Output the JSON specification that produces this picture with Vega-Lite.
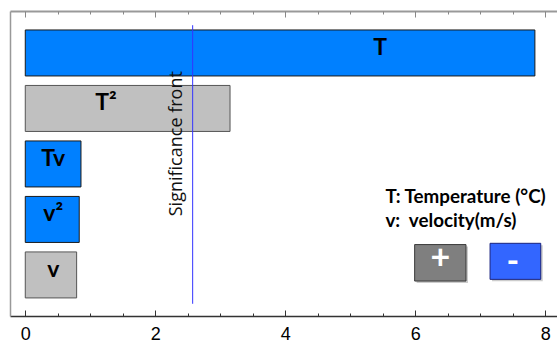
{
  "$schema": "https://vega.github.io/schema/vega-lite/v6.json",
  "width": 547,
  "height": 305,
  "autosize": {"type": "none"},
  "padding": {"left": 10, "top": 11, "right": 0, "bottom": 27},
  "background": "white",
  "config": {"view": {"stroke": null}, "axis": {"title": null, "grid": false}},
  "datasets": {
    "effects": [
      {"term": "T", "pos": 5, "effect": 7.84, "sign": "-", "lx": 5.46},
      {"term": "T²", "pos": 4, "effect": 3.15, "sign": "+", "lx": 1.24},
      {"term": "Tv", "pos": 3, "effect": 0.857, "sign": "-", "lx": 0.43},
      {"term": "v²", "pos": 2, "effect": 0.83, "sign": "-", "lx": 0.43},
      {"term": "v", "pos": 1, "effect": 0.79, "sign": "+", "lx": 0.43}
    ],
    "front": [{"x": 2.575, "ytop": 5.5, "ybot": 0.48, "label": "Significance front", "tx": 2.41, "ty": 3.365}],
    "notes": [
      {"label": "T: Temperature (°C)", "x": 5.54, "y": 2.30},
      {"label": "v:\u00a0 velocity(m/s)", "x": 5.54, "y": 1.86}
    ],
    "buttons": [
      {"sym": "+", "x1": 5.99, "x2": 6.78, "y1": 1.547, "y2": 0.89, "tx": 6.385, "ty": 1.10},
      {"sym": "-", "x1": 7.15, "x2": 7.93, "y1": 1.57, "y2": 0.92, "tx": 7.5, "ty": 1.04}
    ]
  },
  "resolve": {"axis": {"x": "independent", "y": "independent"}, "scale": {"fill": "independent", "stroke": "independent"}},
  "layer": [
    {
      "data": {"name": "effects"},
      "mark": {"type": "bar", "orient": "horizontal", "size": 46, "strokeWidth": 1},
      "encoding": {
        "x": {"field": "effect", "type": "quantitative", "stack": null,
          "scale": {"domain": [-0.235, 8.18], "nice": false, "zero": false},
          "axis": {"orient": "bottom", "values": [0, 2, 4, 6, 8], "tickSize": -6, "tickColor": "#333", "domainColor": "#333", "domainWidth": 1.5, "labelFontSize": 18, "labelFont": "Liberation Sans", "labelColor": "#000", "labelPadding": 15, "labelFlush": false}},
        "y": {"field": "pos", "type": "quantitative",
          "scale": {"domain": [0.35, 5.666], "nice": false, "zero": false},
          "axis": {"orient": "left", "ticks": false, "labels": false, "domainColor": "#999", "domainWidth": 1.5}},
        "fill": {"field": "sign", "type": "nominal", "scale": {"domain": ["+", "-"], "range": ["#c0c0c0", "#0080ff"]}, "legend": null},
        "stroke": {"field": "sign", "type": "nominal", "scale": {"domain": ["+", "-"], "range": ["#555555", "#1a1a1a"]}, "legend": null}
      }
    },
    {
      "data": {"name": "front"},
      "mark": {"type": "rule", "color": "#3333ff", "strokeWidth": 1},
      "encoding": {
        "x": {"field": "x", "type": "quantitative",
          "axis": {"orient": "bottom", "values": [0, 0.5, 1, 1.5, 2, 2.5, 3, 3.5, 4, 4.5, 5, 5.5, 6, 6.5, 7, 7.5, 8], "tickSize": -3, "tickColor": "#333", "labels": false, "domain": false}},
        "y": {"field": "ytop", "type": "quantitative", "axis": null},
        "y2": {"field": "ybot"}
      }
    },
    {
      "data": {"name": "front"},
      "mark": {"type": "text", "angle": 270, "align": "center", "baseline": "alphabetic", "font": "Open Sans", "fontSize": 18, "color": "#111"},
      "encoding": {
        "x": {"field": "tx", "type": "quantitative",
          "axis": {"orient": "top", "values": [0, 2, 4, 6, 8], "tickSize": -6, "tickColor": "#888", "labels": false, "domainColor": "#999", "domainWidth": 2}},
        "y": {"field": "ty", "type": "quantitative", "axis": null},
        "text": {"field": "label"}
      }
    },
    {
      "data": {"name": "effects"},
      "mark": {"type": "text", "align": "center", "baseline": "alphabetic", "dy": 2, "font": "Lato", "fontWeight": "bold", "fontSize": 23, "color": "#000"},
      "encoding": {
        "x": {"field": "lx", "type": "quantitative",
          "axis": {"orient": "top", "values": [0, 0.5, 1, 1.5, 2, 2.5, 3, 3.5, 4, 4.5, 5, 5.5, 6, 6.5, 7, 7.5, 8], "tickSize": -3, "tickColor": "#888", "labels": false, "domain": false}},
        "y": {"field": "pos", "type": "quantitative", "axis": null},
        "text": {"field": "term"}
      }
    },
    {
      "data": {"name": "notes"},
      "mark": {"type": "text", "align": "left", "baseline": "alphabetic", "font": "Lato", "fontWeight": "bold", "fontSize": 18.8, "color": "#000"},
      "encoding": {
        "x": {"field": "x", "type": "quantitative", "axis": null},
        "y": {"field": "y", "type": "quantitative", "axis": null},
        "text": {"field": "label"}
      }
    },
    {
      "data": {"name": "buttons"},
      "mark": {"type": "rect", "fill": "#999999", "opacity": 0.5, "xOffset": 2, "x2Offset": 2, "yOffset": 2, "y2Offset": 2},
      "encoding": {
        "x": {"field": "x1", "type": "quantitative", "axis": null},
        "x2": {"field": "x2"},
        "y": {"field": "y1", "type": "quantitative", "axis": null},
        "y2": {"field": "y2"}
      }
    },
    {
      "data": {"name": "buttons"},
      "mark": {"type": "rect", "strokeWidth": 1},
      "encoding": {
        "x": {"field": "x1", "type": "quantitative", "axis": null},
        "x2": {"field": "x2"},
        "y": {"field": "y1", "type": "quantitative", "axis": null},
        "y2": {"field": "y2"},
        "fill": {"field": "sym", "type": "nominal", "scale": {"domain": ["+", "-"], "range": ["#7f7f7f", "#3366ff"]}, "legend": null},
        "stroke": {"field": "sym", "type": "nominal", "scale": {"domain": ["+", "-"], "range": ["#3a3a3a", "#1a237e"]}, "legend": null}
      }
    },
    {
      "data": {"name": "buttons"},
      "mark": {"type": "text", "align": "center", "baseline": "alphabetic", "font": "Lato", "fontWeight": "bold", "fontSize": 34, "color": "white"},
      "encoding": {
        "x": {"field": "tx", "type": "quantitative", "axis": null},
        "y": {"field": "ty", "type": "quantitative", "axis": null},
        "text": {"field": "sym"}
      }
    }
  ]
}
